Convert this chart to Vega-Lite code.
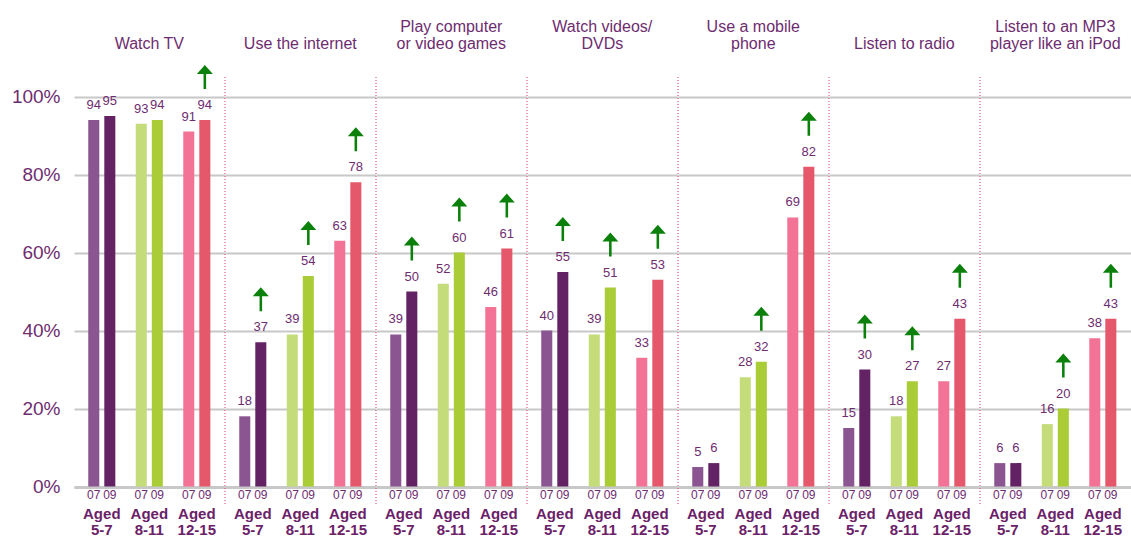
{
  "$schema": "https://vega.github.io/schema/vega-lite/v6.json",
  "padding": {"left": 11, "top": 18, "right": 0, "bottom": 0},
  "autosize": {"type": "pad"},
  "config": {"font": "Liberation Sans", "view": {"stroke": null}},
  "data": {"values": [
    {"activity": "Watch TV", "age": "5-7", "year": "07", "value": 94, "up": false},
    {"activity": "Watch TV", "age": "5-7", "year": "09", "value": 95, "up": false},
    {"activity": "Watch TV", "age": "8-11", "year": "07", "value": 93, "up": false},
    {"activity": "Watch TV", "age": "8-11", "year": "09", "value": 94, "up": false},
    {"activity": "Watch TV", "age": "12-15", "year": "07", "value": 91, "up": false},
    {"activity": "Watch TV", "age": "12-15", "year": "09", "value": 94, "up": true},
    {"activity": "Use the internet", "age": "5-7", "year": "07", "value": 18, "up": false},
    {"activity": "Use the internet", "age": "5-7", "year": "09", "value": 37, "up": true},
    {"activity": "Use the internet", "age": "8-11", "year": "07", "value": 39, "up": false},
    {"activity": "Use the internet", "age": "8-11", "year": "09", "value": 54, "up": true},
    {"activity": "Use the internet", "age": "12-15", "year": "07", "value": 63, "up": false},
    {"activity": "Use the internet", "age": "12-15", "year": "09", "value": 78, "up": true},
    {"activity": "Play computer\nor video games", "age": "5-7", "year": "07", "value": 39, "up": false},
    {"activity": "Play computer\nor video games", "age": "5-7", "year": "09", "value": 50, "up": true},
    {"activity": "Play computer\nor video games", "age": "8-11", "year": "07", "value": 52, "up": false},
    {"activity": "Play computer\nor video games", "age": "8-11", "year": "09", "value": 60, "up": true},
    {"activity": "Play computer\nor video games", "age": "12-15", "year": "07", "value": 46, "up": false},
    {"activity": "Play computer\nor video games", "age": "12-15", "year": "09", "value": 61, "up": true},
    {"activity": "Watch videos/\nDVDs", "age": "5-7", "year": "07", "value": 40, "up": false},
    {"activity": "Watch videos/\nDVDs", "age": "5-7", "year": "09", "value": 55, "up": true},
    {"activity": "Watch videos/\nDVDs", "age": "8-11", "year": "07", "value": 39, "up": false},
    {"activity": "Watch videos/\nDVDs", "age": "8-11", "year": "09", "value": 51, "up": true},
    {"activity": "Watch videos/\nDVDs", "age": "12-15", "year": "07", "value": 33, "up": false},
    {"activity": "Watch videos/\nDVDs", "age": "12-15", "year": "09", "value": 53, "up": true},
    {"activity": "Use a mobile\nphone", "age": "5-7", "year": "07", "value": 5, "up": false},
    {"activity": "Use a mobile\nphone", "age": "5-7", "year": "09", "value": 6, "up": false},
    {"activity": "Use a mobile\nphone", "age": "8-11", "year": "07", "value": 28, "up": false},
    {"activity": "Use a mobile\nphone", "age": "8-11", "year": "09", "value": 32, "up": true},
    {"activity": "Use a mobile\nphone", "age": "12-15", "year": "07", "value": 69, "up": false},
    {"activity": "Use a mobile\nphone", "age": "12-15", "year": "09", "value": 82, "up": true},
    {"activity": "Listen to radio", "age": "5-7", "year": "07", "value": 15, "up": false},
    {"activity": "Listen to radio", "age": "5-7", "year": "09", "value": 30, "up": true},
    {"activity": "Listen to radio", "age": "8-11", "year": "07", "value": 18, "up": false},
    {"activity": "Listen to radio", "age": "8-11", "year": "09", "value": 27, "up": true},
    {"activity": "Listen to radio", "age": "12-15", "year": "07", "value": 27, "up": false},
    {"activity": "Listen to radio", "age": "12-15", "year": "09", "value": 43, "up": true},
    {"activity": "Listen to an MP3\nplayer like an iPod", "age": "5-7", "year": "07", "value": 6, "up": false},
    {"activity": "Listen to an MP3\nplayer like an iPod", "age": "5-7", "year": "09", "value": 6, "up": false},
    {"activity": "Listen to an MP3\nplayer like an iPod", "age": "8-11", "year": "07", "value": 16, "up": false},
    {"activity": "Listen to an MP3\nplayer like an iPod", "age": "8-11", "year": "09", "value": 20, "up": true},
    {"activity": "Listen to an MP3\nplayer like an iPod", "age": "12-15", "year": "07", "value": 38, "up": false},
    {"activity": "Listen to an MP3\nplayer like an iPod", "age": "12-15", "year": "09", "value": 43, "up": true}
  ]},
  "spacing": 0,
  "bounds": "flush",
  "facet": {
    "column": {
      "field": "activity",
      "type": "nominal",
      "sort": ["Watch TV", "Use the internet", "Play computer\nor video games", "Watch videos/\nDVDs", "Use a mobile\nphone", "Listen to radio", "Listen to an MP3\nplayer like an iPod"],
      "title": null,
      "header": {
        "labelExpr": "split(datum.value, '\\n')",
        "labelFontSize": 16,
        "labelColor": "#6E2C70",
        "labelLineHeight": 17,
        "labelBaseline": "bottom",
        "labelPadding": 9.5,
        "labelFont": "Liberation Sans"
      }
    }
  },
  "spec": {
    "width": 150.6,
    "height": 409.5,
    "encoding": {
      "x": {
        "field": "age",
        "type": "nominal",
        "sort": ["5-7", "8-11", "12-15"],
        "scale": {"domain": ["5-7", "8-11", "12-15"], "paddingInner": 0.43, "paddingOuter": 0.3},
        "axis": {
          "title": null,
          "labelExpr": "['Aged', datum.value]",
          "labelFontWeight": "bold",
          "labelFontSize": 15,
          "labelLineHeight": 16.5,
          "labelColor": "#6A2168",
          "labelPadding": 19,
          "labelBaseline": "top",
          "labelAngle": 0,
          "ticks": false,
          "domainColor": "#C8C8C8",
          "domainWidth": 3
        }
      },
      "y": {
        "field": "value",
        "type": "quantitative",
        "scale": {"domain": [0, 105], "nice": false},
        "axis": {
          "title": null,
          "values": [0, 20, 40, 60, 80, 100],
          "labelExpr": "datum.value + '%'",
          "grid": true,
          "gridColor": "#C8C8C8",
          "gridWidth": 2,
          "domain": false,
          "ticks": false,
          "labelFontSize": 19,
          "labelColor": "#6E2C70",
          "labelPadding": 14
        }
      }
    },
    "layer": [
      {
        "mark": {"type": "bar"},
        "encoding": {
          "xOffset": {"field": "year", "type": "nominal", "scale": {"domain": ["07", "09"], "paddingInner": 0.3125, "paddingOuter": 0}},
          "color": {
            "condition": [
              {"test": "datum.age == '5-7' && datum.year == '07'", "value": "#8B5592"},
              {"test": "datum.age == '5-7'", "value": "#622264"},
              {"test": "datum.age == '8-11' && datum.year == '07'", "value": "#C4DC7A"},
              {"test": "datum.age == '8-11'", "value": "#A9CC37"},
              {"test": "datum.year == '07'", "value": "#F27396"}
            ],
            "value": "#E5586B"
          }
        }
      },
      {
        "mark": {"type": "text", "dy": -11, "baseline": "alphabetic", "fontSize": 13, "color": "#6E2C70"},
        "encoding": {
          "xOffset": {"field": "year", "type": "nominal"},
          "text": {"field": "value", "type": "quantitative"}
        }
      },
      {
        "mark": {"type": "text", "dy": 3, "baseline": "top", "fontSize": 12, "color": "#6E2C70"},
        "encoding": {
          "xOffset": {"field": "year", "type": "nominal"},
          "y": {"datum": 0},
          "text": {"field": "year", "type": "nominal"}
        }
      },
      {
        "transform": [{"filter": "datum.up"}],
        "mark": {"type": "point", "shape": "M0,-6.875L1,-5.75L0.16,-5.75L0.16,-3.875L-0.16,-3.875L-0.16,-5.75L-1,-5.75Z", "size": 256, "filled": true, "color": "#0B800B", "opacity": 1, "strokeWidth": 0},
        "encoding": {
          "xOffset": {"field": "year", "type": "nominal"}
        }
      },
      {
        "transform": [{"filter": "datum.age == '5-7' && datum.year == '07' && datum.activity != 'Watch TV'"}],
        "mark": {"type": "rule", "color": "#D9346E", "strokeDash": [1, 2], "strokeWidth": 1},
        "encoding": {
          "x": {"datum": "5-7", "bandPosition": -0.5262},
          "y": {"datum": 105},
          "y2": {"datum": -5}
        }
      }
    ]
  }
}
